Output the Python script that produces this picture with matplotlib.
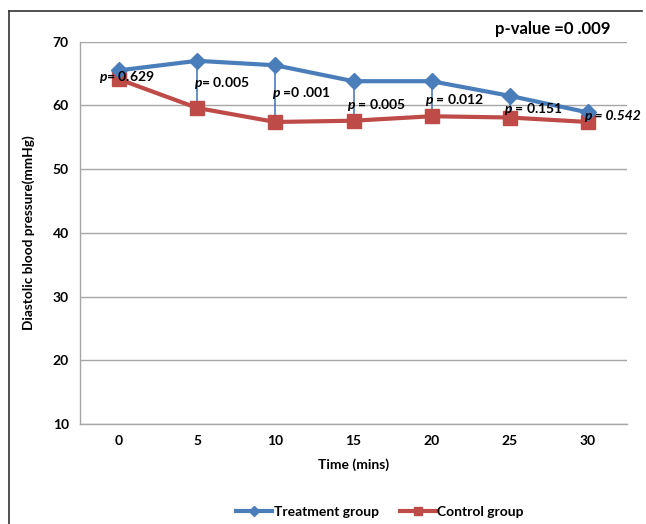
import matplotlib
matplotlib.use("Agg")
from matplotlib import pyplot as plt
from matplotlib.lines import Line2D

plt.rcParams['font.family'] = ['Lato', 'DejaVu Sans']
plt.rcParams['mathtext.fontset'] = 'custom'
plt.rcParams['mathtext.it'] = 'Lato:italic:bold'
plt.rcParams['mathtext.rm'] = 'Lato:bold'

# data
times = ['0', '5', '10', '15', '20', '25', '30']
treatment = [65.5, 67.0, 66.3, 63.8, 63.8, 61.5, 58.9]
control = [64.1, 59.6, 57.4, 57.6, 58.3, 58.1, 57.4]
p_labels = ['= 0.629', '= 0.005', ' =0 .001', ' = 0.005', ' = 0.012', ' = 0.151', ' = 0.542']
# where each p label sits (left edge, centre) in data units
label_x = [-0.26, 0.96, 1.96, 2.92, 3.92, 4.93, 5.95]
label_y = [64.4, 63.5, 61.9, 60.1, 60.9, 59.4, 58.3]

blue = '#4a7ebb'
red = '#be4b48'
grid_col = '#a6a6a6'

fig = plt.figure(figsize=(6.46, 5.24), dpi=100)
ax = fig.add_axes([80/646, 1-424/524, (627-80)/646, (424-41.7)/524])

x = list(range(len(times)))
ax.vlines(x, control, treatment, color=blue, lw=1.2, zorder=2)
ax.plot(x, control, color=red, lw=3, marker='s', ms=10, zorder=3)
ax.plot(x, treatment, color=blue, lw=3, marker='D', ms=8, zorder=4)

for i in range(len(times)):
    if i == len(times) - 1:
        ax.text(label_x[i], label_y[i], 'p' + p_labels[i], fontsize=10, fontweight='bold',
                style='italic', va='center', ha='left', zorder=5)
    else:
        ax.text(label_x[i], label_y[i], r'$\mathit{p}$' + p_labels[i], fontsize=10,
                fontweight='bold', va='center', ha='left', zorder=5)

ax.set_xlim(-0.5, len(times) - 0.5)
ax.set_ylim(10, 70)
ax.set_yticks([10, 20, 30, 40, 50, 60, 70])
ax.set_xticks(x)
ax.set_xticklabels(times)
ax.tick_params(length=0, labelsize=10, pad=8)
for lab in ax.get_xticklabels() + ax.get_yticklabels():
    lab.set_fontweight('bold')
ax.yaxis.grid(True, color=grid_col, lw=1)
ax.set_axisbelow(True)
for s in ['top', 'right']:
    ax.spines[s].set_visible(False)
for s in ['left', 'bottom']:
    ax.spines[s].set_color(grid_col)
    ax.spines[s].set_linewidth(1)

ax.set_xlabel('Time (mins)', fontsize=10, fontweight='bold', labelpad=8)
ax.set_ylabel('Diastolic blood pressure(mmHg)', fontsize=9.8, fontweight='bold', labelpad=13)

fig.text(495/646, 1-29/524, 'p-value =0 .009', fontsize=12, fontweight='bold', va='center', ha='left')

# outer frame (left and top edges)
fig.add_artist(Line2D([9/646, 9/646], [0, 1-11/524], color='#333333', lw=1.2, transform=fig.transFigure))
fig.add_artist(Line2D([9/646, 642/646], [1-11/524, 1-11/524], color='#333333', lw=1.2, transform=fig.transFigure))

handles = [Line2D([], [], color=blue, lw=3, marker='D', ms=5),
           Line2D([], [], color=red, lw=3, marker='s', ms=6)]
fig.legend(handles, ['Treatment group', 'Control group'], loc='center', ncol=2,
           bbox_to_anchor=(380/646, 1-512/524), frameon=False, prop={'weight': 'bold', 'size': 10},
           handlelength=2.6, handletextpad=0.1, columnspacing=1.5)

fig.savefig('out.png', dpi=100)
